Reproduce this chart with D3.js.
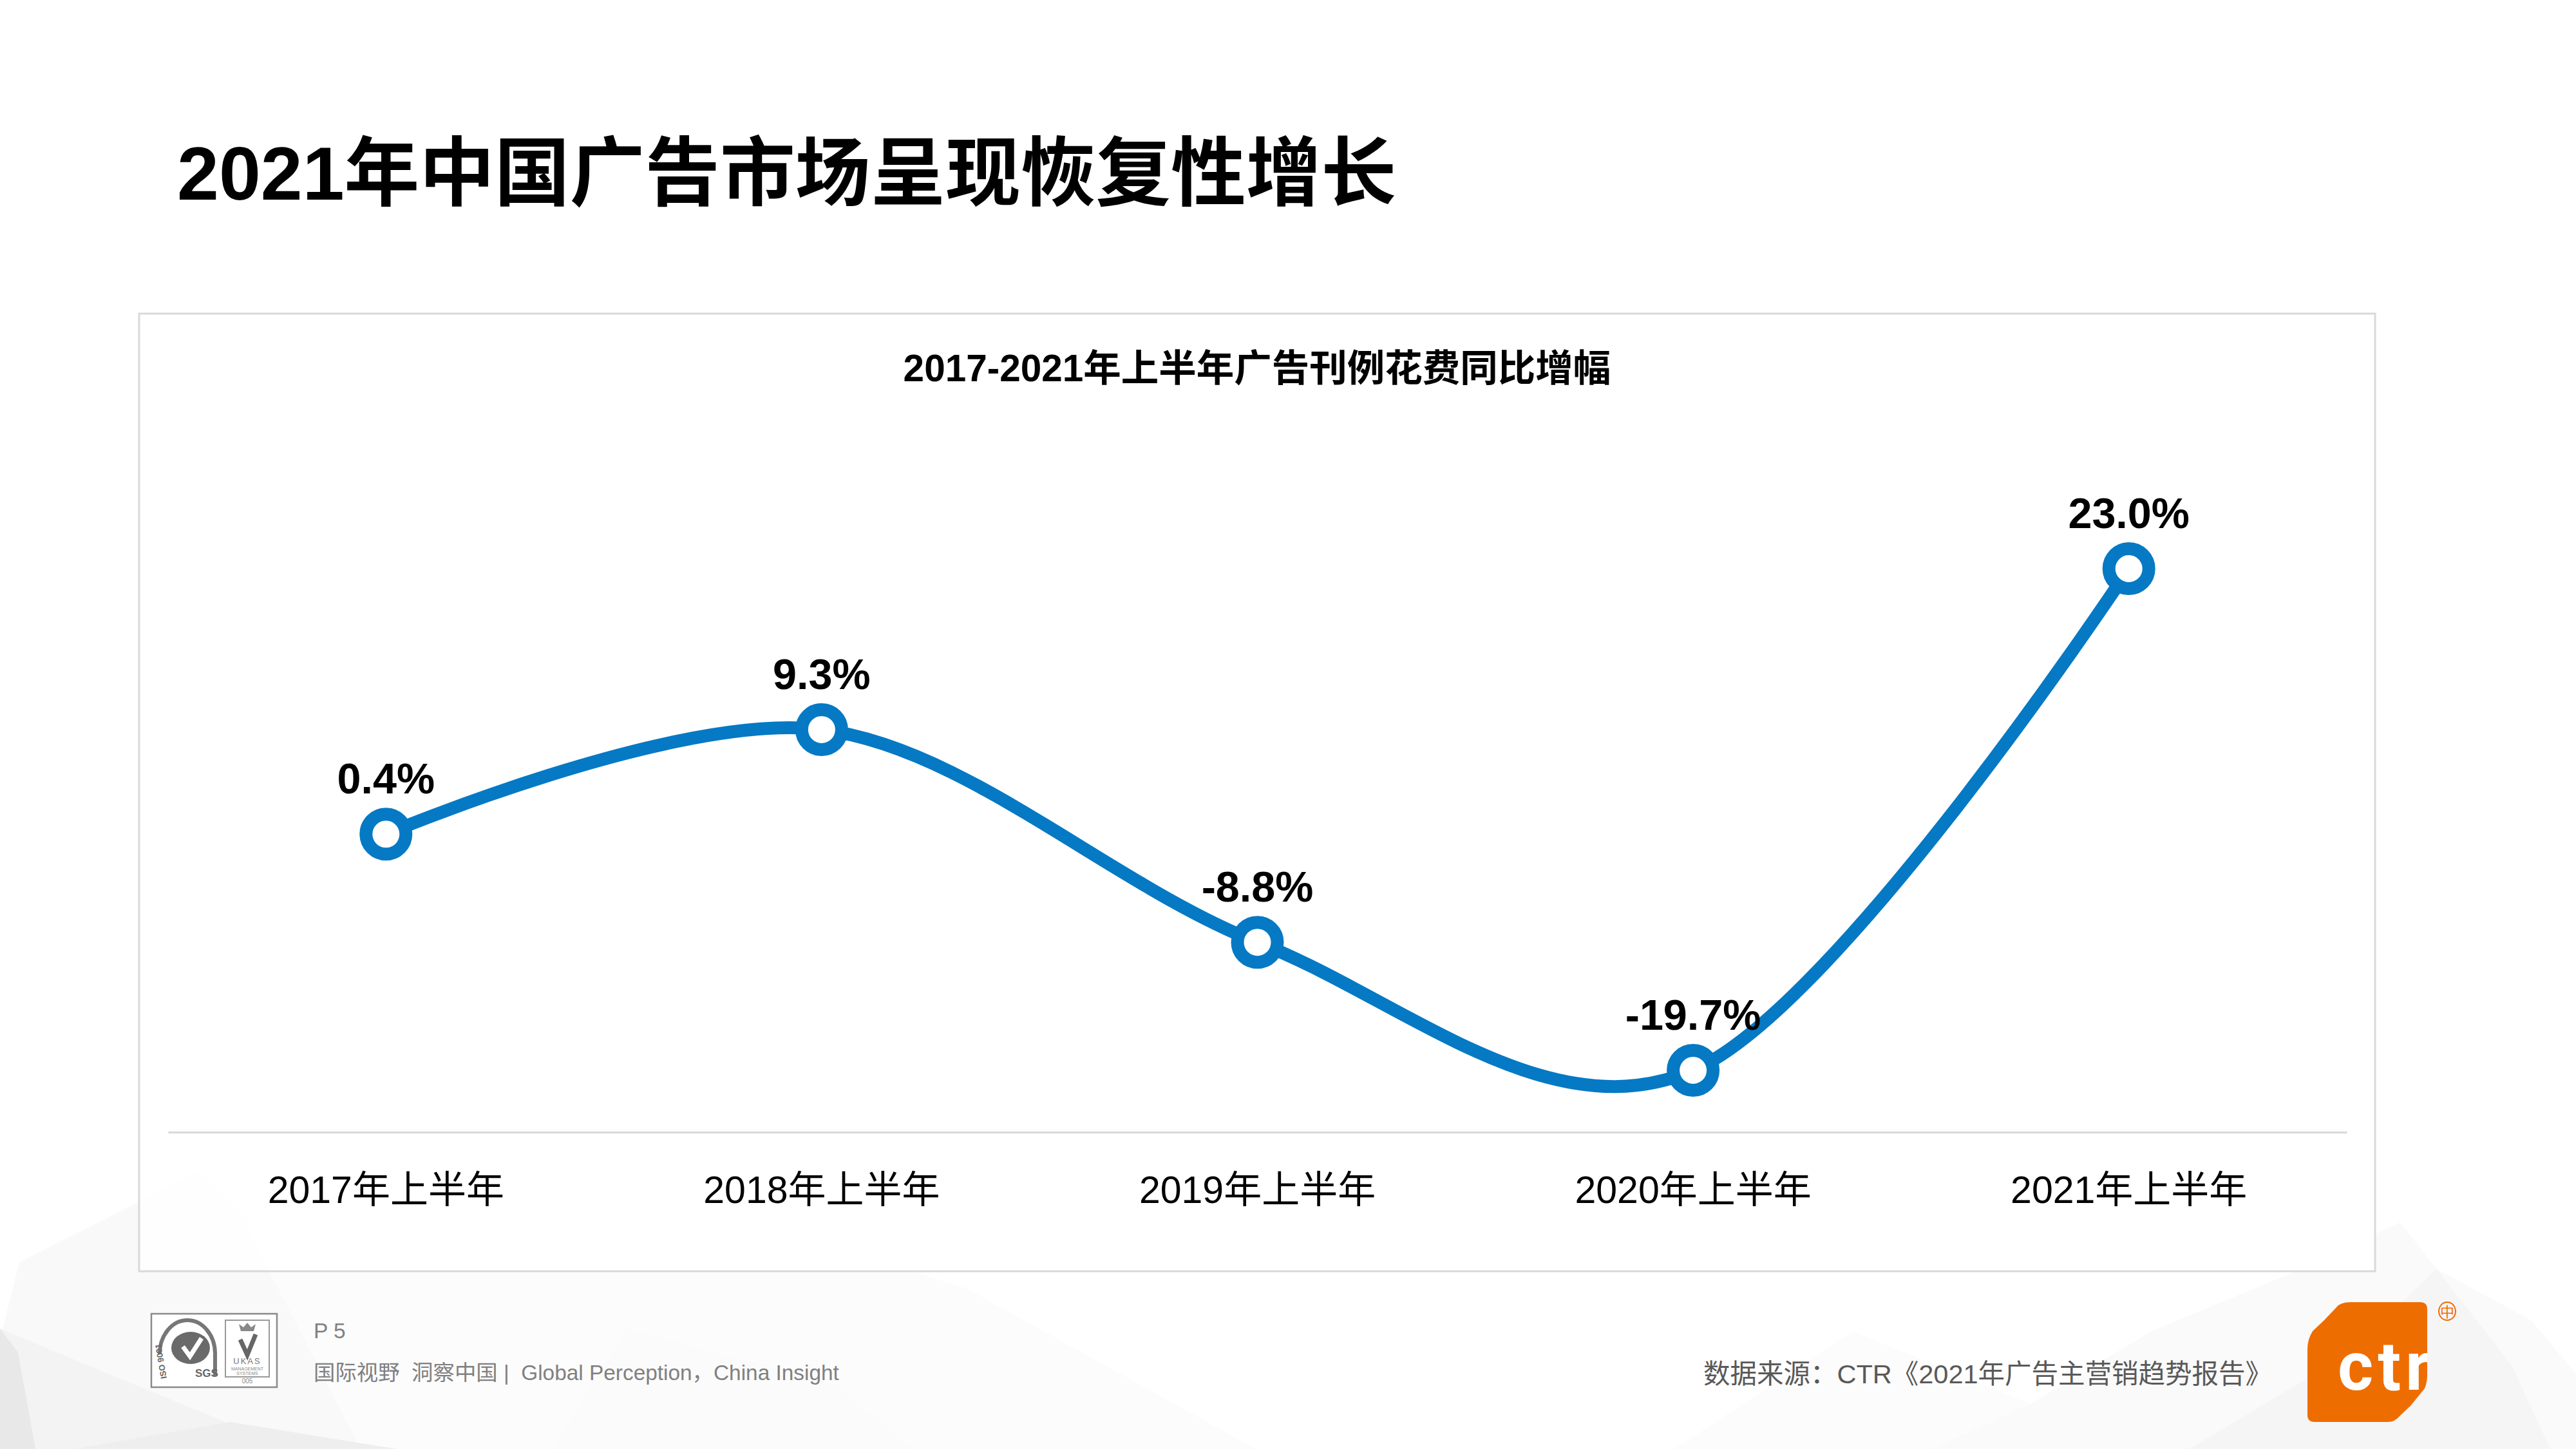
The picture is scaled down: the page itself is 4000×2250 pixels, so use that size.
<!DOCTYPE html>
<html>
<head>
<meta charset="utf-8">
<script src="https://cdn.jsdelivr.net/npm/d3@7"></script>
<style>
  html, body { margin: 0; padding: 0; background: #fff; }
  svg { display: block; }
  text { font-family: "Liberation Sans", "Noto Sans CJK SC", sans-serif; }
</style>
</head>
<body>
<svg id="chart"></svg>
<script>
"use strict";

const categories = ["2017年上半年", "2018年上半年", "2019年上半年", "2020年上半年", "2021年上半年"];
const growth = [0.4, 9.3, -8.8, -19.7, 23.0];
const growthLabels = ["0.4%", "9.3%", "-8.8%", "-19.7%", "23.0%"];

const width = 4000;
const height = 2250;
const blue = "#0579c4";
const orange = "#ee6d00";

const svg = d3.select("#chart")
    .attr("width", width)
    .attr("height", height)
    .attr("viewBox", [0, 0, width, height]);

// faint low-poly backdrop along the bottom of the slide
const facets = [
    ["#f9f9f9", "0,2250 0,2080 30,1960 312,1818 384,1893 460,1973 560,2250"],
    ["#fcfcfc", "380,1900 1000,1850 1500,2000 1950,2250 560,2250"],
    ["#fbfbfb", "973,2063 1295,2150 1420,2250 857,2250"],
    ["#f3f3f3", "0,2063 160,2130 348,2207 357,2250 0,2250"],
    ["#e8e8e8", "0,2063 28,2100 55,2250 0,2250"],
    ["#eeeeee", "116,2250 357,2208 616,2250"],
    ["#fcfcfc", "2600,2250 2877,2067 3153,2180 3200,2250"],
    ["#fafafa", "3000,2250 3153,2180 3341,2067 3582,1967 3727,1898 3783,1970 3930,2050 4000,2133 4000,2250"],
    ["#f5f5f5", "3400,2250 3650,2100 3783,1970 3900,2120 3960,2250"]
];
svg.append("g").selectAll("polygon")
    .data(facets)
    .join("polygon")
    .attr("fill", d => d[0])
    .attr("points", d => d[1]);

// slide title
svg.append("text")
    .attr("x", 275)
    .attr("y", 310)
    .attr("font-size", 116.7)
    .attr("font-weight", "bold")
    .attr("fill", "#000")
    .text("2021年中国广告市场呈现恢复性增长");

// chart panel
svg.append("rect")
    .attr("x", 216)
    .attr("y", 487)
    .attr("width", 3472)
    .attr("height", 1487)
    .attr("fill", "#fff")
    .attr("fill-opacity", 0.85)
    .attr("stroke", "#d9d9d9")
    .attr("stroke-width", 3);

svg.append("text")
    .attr("x", 1952)
    .attr("y", 592)
    .attr("text-anchor", "middle")
    .attr("font-size", 58.5)
    .attr("font-weight", "bold")
    .text("2017-2021年上半年广告刊例花费同比增幅");

const x = d3.scaleBand()
    .domain(categories)
    .range([261, 3644]);

const y = d3.scaleLinear()
    .domain([-19.7, 23])
    .range([1662, 883]);

const xAxis = d3.axisBottom(x).tickSize(0).tickPadding(0);

svg.append("g")
    .attr("transform", "translate(0,1758)")
    .call(xAxis)
    .call(g => g.select(".domain").attr("stroke", "#d9d9d9").attr("stroke-width", 3))
    .call(g => g.selectAll(".tick text")
        .attr("y", 110)
        .attr("dy", 0)
        .attr("font-size", 59)
        .attr("fill", "#000")
        .style("font-family", "'Liberation Sans', 'Noto Sans CJK SC', sans-serif"));

const points = categories.map((c, i) => ({ cat: c, value: growth[i], label: growthLabels[i] }));
const px = d => x(d.cat) + x.bandwidth() / 2;

const line = d3.line()
    .x(px)
    .y(d => y(d.value))
    .curve(d3.curveCardinal.tension(0));

svg.append("path")
    .attr("fill", "none")
    .attr("stroke", blue)
    .attr("stroke-width", 20)
    .attr("d", line(points));

svg.append("g").selectAll("circle")
    .data(points)
    .join("circle")
    .attr("cx", px)
    .attr("cy", d => y(d.value))
    .attr("r", 31)
    .attr("fill", "#fff")
    .attr("stroke", blue)
    .attr("stroke-width", 20);

svg.append("g").selectAll("text")
    .data(points)
    .join("text")
    .attr("x", px)
    .attr("y", d => y(d.value) - 63)
    .attr("text-anchor", "middle")
    .attr("font-size", 66.5)
    .attr("font-weight", "bold")
    .attr("fill", "#000")
    .text(d => d.label);

// footer, left side: certification badge
const badge = svg.append("g").attr("transform", "translate(235,2040)");
badge.append("rect")
    .attr("width", 195).attr("height", 114)
    .attr("fill", "#fff").attr("stroke", "#8a8a8a").attr("stroke-width", 2.5);
badge.append("path")
    .attr("d", "M13,62 A43,52 0 0 1 99,62 L99,96")
    .attr("fill", "none").attr("stroke", "#777").attr("stroke-width", 6);
badge.append("text")
    .attr("transform", "translate(24,100) rotate(-100)")
    .attr("font-size", 13).attr("font-weight", "bold").attr("fill", "#666")
    .text("ISO 9001");
badge.append("ellipse")
    .attr("cx", 61).attr("cy", 53).attr("rx", 30).attr("ry", 25).attr("fill", "#6a6a6a");
badge.append("path")
    .attr("d", "M49,51 L60,66 L78,38")
    .attr("fill", "none").attr("stroke", "#fff").attr("stroke-width", 7);
badge.append("text")
    .attr("x", 68).attr("y", 98).attr("font-size", 17).attr("font-weight", "bold").attr("fill", "#666")
    .text("SGS");
badge.append("rect")
    .attr("x", 115).attr("y", 10).attr("width", 68).attr("height", 88)
    .attr("fill", "none").attr("stroke", "#999").attr("stroke-width", 2);
badge.append("path")
    .attr("d", "M139,27 L136,16 L143,21 L149,14 L155,21 L162,16 L159,27 Z")
    .attr("fill", "#888");
badge.append("path")
    .attr("d", "M138,40 L149,64 L162,32")
    .attr("fill", "none").attr("stroke", "#666").attr("stroke-width", 7);
badge.append("text")
    .attr("x", 149).attr("y", 78).attr("text-anchor", "middle").attr("font-size", 13)
    .attr("letter-spacing", 2).attr("fill", "#777")
    .text("UKAS");
badge.append("text")
    .attr("x", 149).attr("y", 88).attr("text-anchor", "middle").attr("font-size", 7).attr("fill", "#888")
    .text("MANAGEMENT");
badge.append("text")
    .attr("x", 149).attr("y", 95).attr("text-anchor", "middle").attr("font-size", 7).attr("fill", "#888")
    .text("SYSTEMS");
badge.append("text")
    .attr("x", 149).attr("y", 108).attr("text-anchor", "middle").attr("font-size", 10).attr("fill", "#888")
    .text("005");

svg.append("text")
    .attr("x", 487)
    .attr("y", 2078)
    .attr("font-size", 33.5)
    .attr("fill", "#808080")
    .text("P 5");

svg.append("text")
    .attr("x", 487)
    .attr("y", 2143)
    .attr("font-size", 33.4)
    .attr("fill", "#808080")
    .style("white-space", "pre")
    .text("国际视野  洞察中国 |  Global Perception，China Insight");

// footer, right side
svg.append("text")
    .attr("x", 2645)
    .attr("y", 2148)
    .attr("font-size", 41.5)
    .attr("fill", "#595959")
    .text("数据来源：CTR《2021年广告主营销趋势报告》");

const logoShape = "M3650,2022 L3758,2022 Q3769,2022 3769,2033 L3769,2135 Q3769,2146 3765,2156 L3743,2183 L3727,2198 Q3719,2208 3708,2208 L3594,2208 Q3583,2208 3583,2197 L3583,2095 Q3583,2080 3591,2067 L3609,2050 L3628,2030 Q3634,2022 3650,2022 Z";

svg.append("clipPath")
    .attr("id", "logoClip")
    .append("path")
    .attr("d", logoShape);

svg.append("path")
    .attr("fill", orange)
    .attr("d", logoShape);

svg.append("text")
    .attr("x", 3630)
    .attr("y", 2158)
    .attr("clip-path", "url(#logoClip)")
    .attr("font-size", 106)
    .attr("font-weight", "bold")
    .attr("letter-spacing", 7)
    .attr("fill", "#fff")
    .style("font-family", "Roboto, sans-serif")
    .text("ctr");

svg.append("ellipse")
    .attr("cx", 3800).attr("cy", 2036).attr("rx", 13).attr("ry", 14)
    .attr("fill", "none").attr("stroke", orange).attr("stroke-width", 2);
svg.append("text")
    .attr("x", 3800).attr("y", 2045)
    .attr("text-anchor", "middle").attr("font-size", 22).attr("fill", orange)
    .text("中");
</script>
</body>
</html>
